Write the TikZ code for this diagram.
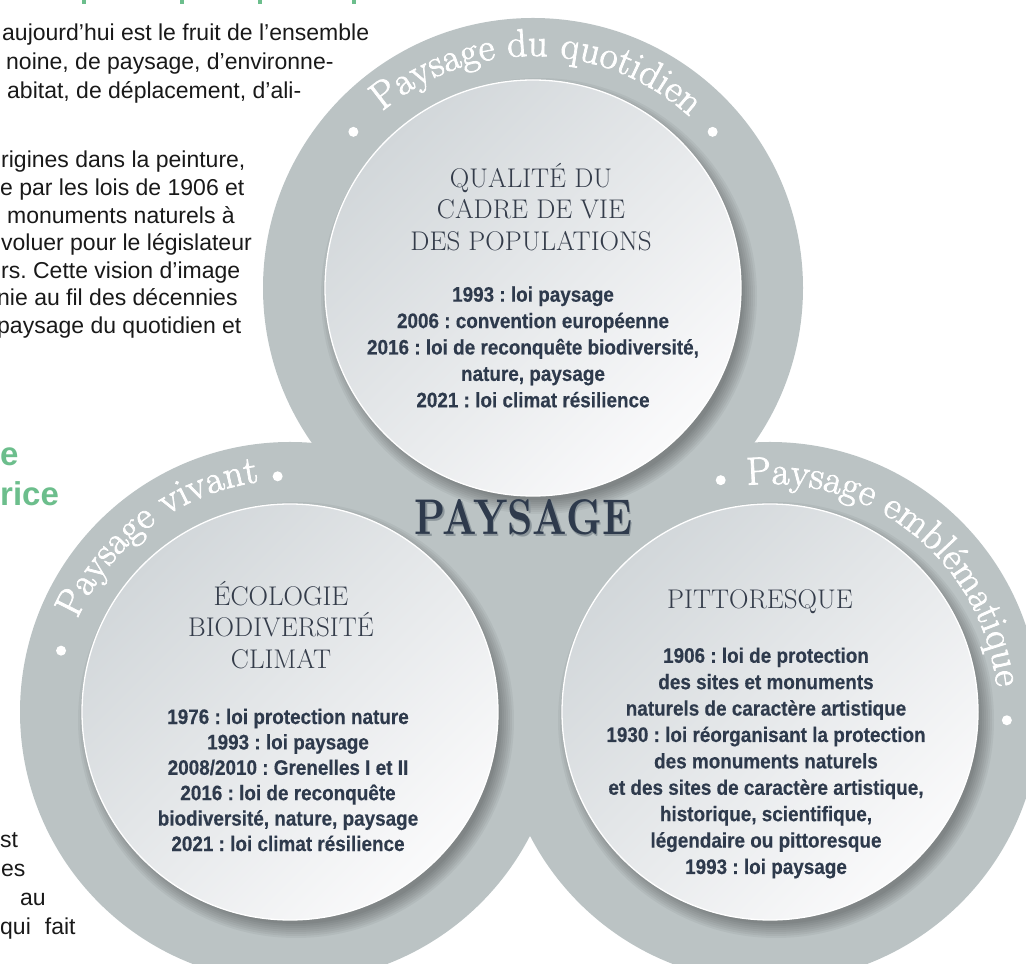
\documentclass[tikz,border=0pt]{standalone}
\usepackage{fontspec}
\usepackage{graphicx}
\usetikzlibrary{decorations.text,calc}
\newfontfamily\bodyfont{Liberation Sans}
\newfontfamily\lawfont[FakeStretch=0.9,FakeBold=0.4]{Liberation Sans}
\newfontfamily\ringfam[FakeBold=2]{Latin Modern Roman}
\definecolor{ringc}{RGB}{187,195,196}
\definecolor{innertl}{RGB}{210,215,218}
\definecolor{innerbr}{RGB}{250,250,251}
\definecolor{lawc}{RGB}{46,58,76}
\definecolor{titc}{RGB}{52,60,74}
\definecolor{greenc}{RGB}{108,190,140}
\definecolor{bodyc}{RGB}{25,25,25}
\definecolor{shadc}{RGB}{140,150,155}
\newcommand\ringfont{\ringfam\fontsize{39}{44}\selectfont}
\frenchspacing
\tikzset{
  ring/.style={fill=ringc},
  inner/.style={draw=white, line width=1.3pt, top color=innertl, bottom color=innerbr, shading angle=45},
  titletxt/.style={inner sep=0pt, align=center, text=titc, font=\fontsize{27}{31.5}\selectfont},
  lawtxt/.style={inner sep=0pt, align=center, text=lawc, font=\lawfont\bfseries\fontsize{21}{26.4}\selectfont},
  bodytxt/.style={inner sep=0pt, anchor=base west, text=bodyc, font=\bodyfont\fontsize{23}{27}\selectfont},
  greentxt/.style={inner sep=0pt, anchor=base west, text=greenc, font=\bodyfont\bfseries\fontsize{33}{40}\selectfont},
  ringtext/.style={decorate, decoration={text along path, text align=center, text color=white, text={|\ringfont|#1}}},
  dot/.style={fill=white}
}
\begin{document}
\begin{tikzpicture}[x=1pt,y=1pt]
\frenchspacing
\useasboundingbox (0,0) rectangle (1026,964);
\clip (0,0) rectangle (1026,964);
\coordinate (ct) at (533,676);
\coordinate (cl) at (290,252);
\coordinate (cr) at (770,252);
% outer rings
\fill[ring] (ct) -- (cl) -- (cr) -- cycle;
\fill[ring] (ct) circle (270);
\fill[ring] (cl) circle (270);
\fill[ring] (cr) circle (270);
% shadows of inner discs
\foreach \n in {ct,cl,cr}{
  \foreach \k in {0,...,7}
    \fill[black, opacity=0.045] ($(\n)+(6,-8)$) circle ({218-2*\k});
}
% inner discs
\draw[inner] (ct) circle (208);
\draw[inner] (cl) circle (208);
\draw[inner] (cr) circle (208);
% ring texts
\path[ringtext={Paysage du quotidien}] ($(ct)+(150:232)$) arc[start angle=150, end angle=28, radius=232];
\path[ringtext={Paysage vivant}] ($(cl)+(183:232)$) arc[start angle=183, end angle=71, radius=232];
\path[ringtext={Paysage emblématique}] ($(cr)+(107:228)$) arc[start angle=107, end angle=-5, radius=228];
% dots
\fill[dot] ($(ct)+(139:238)$) circle (5);
\fill[dot] ($(ct)+(41:238)$) circle (5);
\fill[dot] ($(cl)+(165:237)$) circle (5);
\fill[dot] ($(cl)+(93:236)$) circle (5);
\fill[dot] ($(cr)+(102:237)$) circle (5);
\fill[dot] ($(cr)+(-2:237)$) circle (5);
% titles
\node[titletxt] (ttop) at (531,757) {QUALITÉ DU\\CADRE DE VIE\\DES POPULATIONS};
\node[titletxt] (tleft) at (281,339) {ÉCOLOGIE\\BIODIVERSITÉ\\CLIMAT};
\node[titletxt] (tright) at (760,362) {PITTORESQUE};
% laws
\node[lawtxt] (ltop) at (533,617) {1993 : loi paysage\\2006 : convention européenne\\2016 : loi de reconquête biodiversité,\\nature, paysage\\2021 : loi climat résilience};
\node[lawtxt, font=\lawfont\bfseries\fontsize{21}{25.4}\selectfont] (lleft) at (288,184) {1976 : loi protection nature\\1993 : loi paysage\\2008/2010 : Grenelles I et II\\2016 : loi de reconquête\\biodiversité, nature, paysage\\2021 : loi climat résilience};
\node[lawtxt] (lright) at (766,201) {1906 : loi de protection\\des sites et monuments\\naturels de caractère artistique\\1930 : loi réorganisant la protection\\des monuments naturels\\et des sites de caractère artistique,\\historique, scientifique,\\légendaire ou pittoresque\\1993 : loi paysage};
% central label
\node[inner sep=0pt, text=shadc] (pshadow) at (525.3,445) {\resizebox{217pt}{35pt}{\bfseries PAYSAGE}};
\node[inner sep=0pt, text=lawc] (paysage) at (523.5,446.5) {\resizebox{217pt}{35pt}{\bfseries PAYSAGE}};
% left page text (cropped)
\node[bodytxt] (b1) at (2,923) {aujourd’hui est le fruit de l’ensemble};
\node[bodytxt] (b2) at (6,894) {noine, de paysage, d’environne-};
\node[bodytxt] (b3) at (7,865) {abitat, de déplacement, d’ali-};
\node[bodytxt] (b5) at (1,796) {rigines dans la peinture,};
\node[bodytxt] (b6) at (0,768) {e par les lois de 1906 et};
\node[bodytxt] (b7) at (7,740) {monuments naturels à};
\node[bodytxt] (b8) at (1,713) {voluer pour le législateur};
\node[bodytxt] (b9) at (1,685) {rs. Cette vision d’image};
\node[bodytxt] (b10) at (-3,658) {nie au fil des décennies};
\node[bodytxt] (b11) at (-3,630) {paysage du quotidien et};
\node[greentxt] (g1) at (0,498) {e};
\node[greentxt] (g2) at (0,458) {rice};
\node[bodytxt] (c1) at (0,116) {st};
\node[bodytxt] (c2) at (1,87) {es};
\node[bodytxt] (c3) at (20,58) {au};
\node[bodytxt] (c4) at (0,29) {qui\hspace{14pt}fait};
% green heading remnants at top edge
\foreach \gx in {82,180,258,352} \fill[greenc] (\gx,960) rectangle ++(4,4);
\end{tikzpicture}
\end{document}
